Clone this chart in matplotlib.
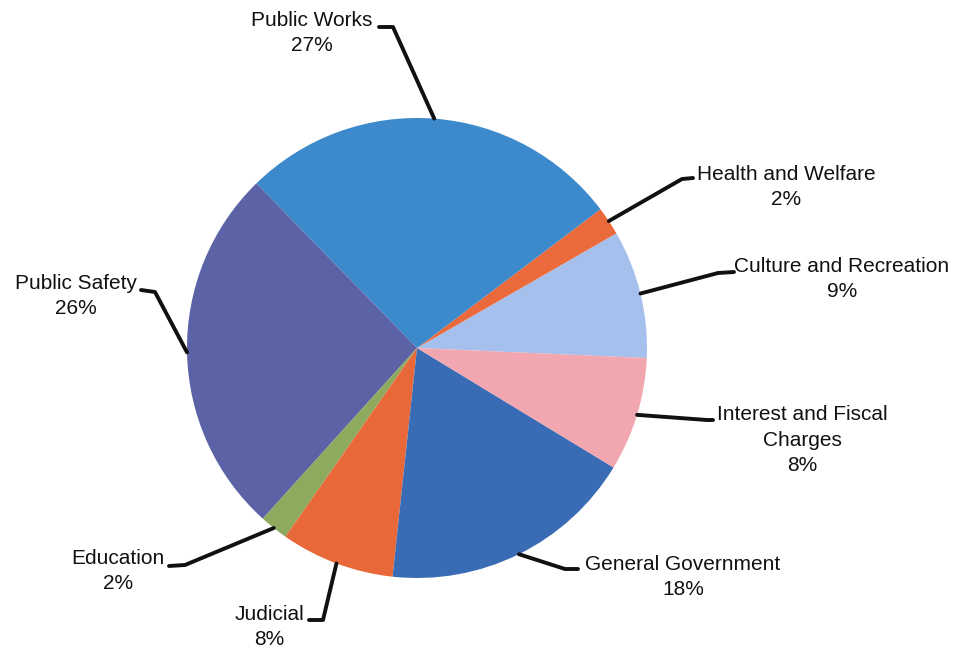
import numpy as np
import matplotlib.pyplot as plt

# Expenses by function (percent of total), counter-clockwise from the east side
categories = ["Culture and Recreation", "Health and Welfare", "Public Works",
              "Public Safety", "Education", "Judicial",
              "General Government", "Interest and Fiscal Charges"]
shares = [9, 2, 27, 26, 2, 8, 18, 8]
label_names = ["Culture and Recreation", "Health and Welfare", "Public Works",
               "Public Safety", "Education", "Judicial",
               "General Government", "Interest and Fiscal\nCharges"]

colors = ["#a6c0ee", "#ea6a3c", "#3c8acb", "#5b62a6",
          "#8eaa5e", "#e9683a", "#3a6cb5", "#f2a6b0"]

W, H = 965, 649
CX, CY, R = 417, 348, 230

# label block centre, elbow and stub end, in px measured from the top-left
label_layout = {
    "Culture and Recreation":      ((842, 279), (718, 273), (734, 272)),
    "Health and Welfare":          ((786, 187), (682, 179), (693, 178)),
    "Public Works":                ((312, 33),  (393, 27),  (379, 27)),
    "Public Safety":               ((76, 296),  (155, 292), (141, 290)),
    "Education":                   ((118, 571), (185, 565), (169, 566)),
    "Judicial":                    ((269, 627), (323, 620), (309, 620)),
    "General Government":          ((683, 577), (565, 569), (578, 569)),
    "Interest and Fiscal Charges": ((802, 440), (707, 420), (713, 420)),
}

plt.rcParams["font.family"] = ["Liberation Sans", "DejaVu Sans"]

fig = plt.figure(figsize=(W / 100, H / 100), dpi=100)
ax = fig.add_axes([0, 0, 1, 1])

wedges, _ = ax.pie(shares, colors=colors, startangle=-2.5, counterclock=True,
                   center=(CX, H - CY), radius=R,
                   wedgeprops=dict(linewidth=0))

ax.set_xlim(0, W)
ax.set_ylim(0, H)
ax.set_aspect("equal")
ax.axis("off")

for wedge, name, text, pct in zip(wedges, categories, label_names, shares):
    mid = np.deg2rad((wedge.theta1 + wedge.theta2) / 2)
    x0 = CX + R * np.cos(mid)
    y0 = (H - CY) + R * np.sin(mid)
    (tx, ty), (ex, ey), (sx, sy) = label_layout[name]
    ax.plot([x0, ex, sx], [y0, H - ey, H - sy], color="#111111", lw=2.8,
            solid_capstyle="round", solid_joinstyle="round", zorder=3)
    ax.text(tx, H - ty, f"{text}\n{pct}%", ha="center", va="center",
            multialignment="center", fontsize=15, color="#111111",
            linespacing=1.42)

fig.savefig("out.png", dpi=100)
